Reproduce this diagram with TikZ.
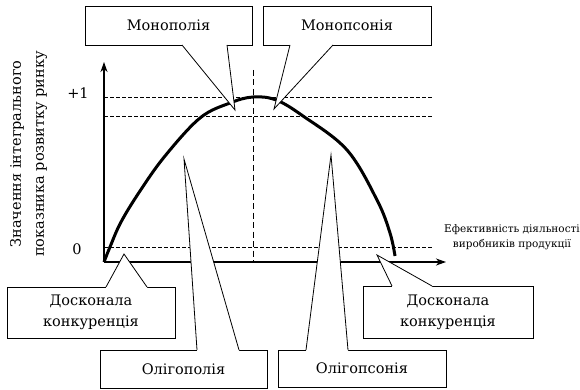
\documentclass[tikz,border=0pt]{standalone}
\usepackage{fontspec}
\setmainfont{DejaVu Serif}
\newfontfamily\lserif{DejaVu Serif}
\usetikzlibrary{arrows.meta}
\newcommand\callptr[4]{%
  \fill[white] (#1) -- (#2) -- (#3) -- ([yshift=#4]#3) -- ([yshift=#4]#1) -- cycle;
  \draw[boxline] (#1) -- (#2) -- (#3);}
\begin{document}
\begin{tikzpicture}[x=1pt,y=-1pt,
  boxline/.style={line width=0.8pt, line join=miter},
  callbox/.style={draw, boxline, fill=white, inner sep=0pt, align=center,
    font=\lserif\fontsize{14.5}{21}\selectfont},
  guide/.style={line width=0.8pt, dash pattern=on 3.5pt off 2.5pt},
  vguide/.style={line width=0.8pt, dash pattern=on 6pt off 3.5pt},
  axis/.style={line width=1.1pt, -{Stealth[length=10pt,width=7pt,inset=3pt]}},
  lbl/.style={inner sep=0pt, font=\lserif\fontsize{14.5}{21}\selectfont}]
\useasboundingbox (0,0) rectangle (580,390);

% axes and guides
\coordinate (O) at (104,262);
\coordinate (ytop) at (104,62);
\coordinate (xend) at (446,262);
\coordinate (g1a) at (104,97);  \coordinate (g1b) at (433,97);
\coordinate (g2a) at (104,116); \coordinate (g2b) at (433,116);
\coordinate (g0a) at (104,247); \coordinate (g0b) at (432,247);
\coordinate (vga) at (253,70);  \coordinate (vgb) at (253,262);
\draw[guide] (g1a) -- (g1b);
\draw[guide] (g2a) -- (g2b);
\draw[guide] (g0a) -- (g0b);
\draw[vguide] (vga) -- (vgb);
\draw[axis] (O) -- (ytop);
\draw[axis] (O) -- (xend);

% curve
\draw[line width=3pt, line cap=butt] plot[smooth, tension=0.6] coordinates {
  (104,262) (110,247) (121,222) (140,191) (165,156) (200,118) (230,103)
  (253,97) (276,100) (303,116) (347,150) (377,200) (390,233) (395,256)};

% axis labels
\node[lbl] (plus1) at (78,93) {+1};
\node[lbl] (zero) at (77,249) {0};
\node[lbl, rotate=90, align=center, font=\lserif\fontsize{14.5}{23}\selectfont] (ylab) at (28.5,154)
  {Значення інтегрального\\показника розвитку ринку};
\node[inner sep=0pt, align=center, font=\lserif\fontsize{10.5}{15}\selectfont] (xlab) at (512,237.5)
  {Ефективність діяльності\\виробників продукції};

% callouts
\node[callbox, minimum width=167pt, minimum height=39pt] (mpl) at (168.5,25.5) {Монополія};
\coordinate (mpl1) at (182,45); \coordinate (mplt) at (235,110); \coordinate (mpl2) at (227,45);
\callptr{mpl1}{mplt}{mpl2}{1.5pt}

\node[callbox, minimum width=168pt, minimum height=39pt] (mps) at (347,25.5) {Монопсонія};
\coordinate (mps1) at (290,45); \coordinate (mpst) at (274,109); \coordinate (mps2) at (333,45);
\callptr{mps1}{mpst}{mps2}{1.5pt}

\node[callbox, minimum width=168pt, minimum height=51pt] (dkl) at (91,312.5) {Досконала\\конкуренція};
\coordinate (dkl1) at (106,287); \coordinate (dklt) at (124,254); \coordinate (dkl2) at (147,287);
\callptr{dkl1}{dklt}{dkl2}{-1.5pt}

\node[callbox, minimum width=170pt, minimum height=52pt] (dkr) at (448,312) {Досконала\\конкуренція};
\coordinate (dkr1) at (392,286); \coordinate (dkrt) at (377,255); \coordinate (dkr2) at (432,286);
\callptr{dkr1}{dkrt}{dkr2}{-1.5pt}

\node[callbox, minimum width=167pt, minimum height=38pt] (olp) at (183.5,369) {Олігополія};
\coordinate (olp1) at (197,350); \coordinate (olpt) at (184,159); \coordinate (olp2) at (239,350);
\callptr{olp1}{olpt}{olp2}{-1.5pt}

\node[callbox, minimum width=168pt, minimum height=37pt] (ols) at (362,368.5) {Олігопсонія};
\coordinate (ols1) at (306,350); \coordinate (olst) at (331,155); \coordinate (ols2) at (348,350);
\callptr{ols1}{olst}{ols2}{-1.5pt}
\end{tikzpicture}
\end{document}
